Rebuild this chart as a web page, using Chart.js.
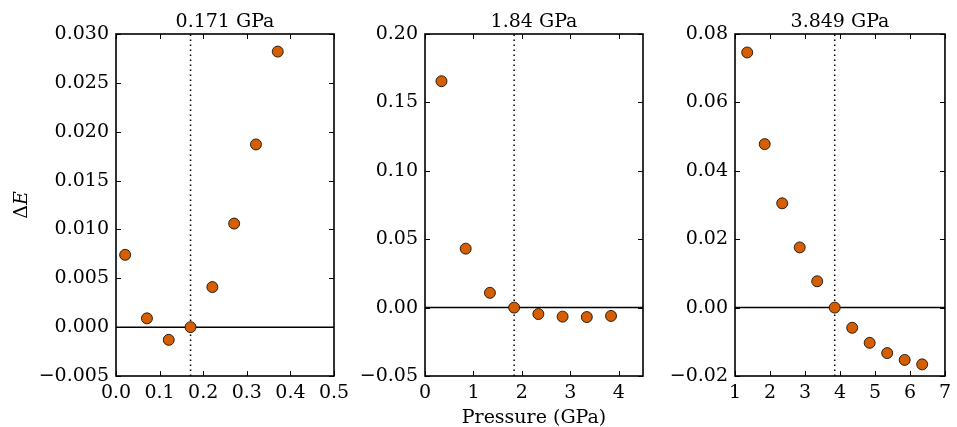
<!DOCTYPE html>
<html lang="en">
<head>
<meta charset="UTF-8">
<title>Delta E vs pressure</title>
<script src="https://cdn.jsdelivr.net/npm/chart.js"></script>
<style>
    body {
        margin: 0;
        background: #fff;
    }
    .wrap {
        position: relative;
        width: 957px;
        height: 427px;
    }
    .wrap canvas {
        position: absolute;
        left: 0;
        top: 0;
    }
</style>
</head>
<body>
<div class="wrap">
    <canvas id="p1" width="957" height="427"></canvas>
    <canvas id="p2" width="957" height="427"></canvas>
    <canvas id="p3" width="957" height="427"></canvas>
</div>
<script>
// panel 1 - transition at 0.171 GPa
const p1Pressure = [0.021, 0.071, 0.121, 0.171, 0.221, 0.271, 0.321, 0.371];
const p1DeltaE = [0.0074, 0.0009, -0.0013, 0.0, 0.0041, 0.0106, 0.0187, 0.0282];
const p1XTicks = [0, 0.1, 0.2, 0.3, 0.4, 0.5];
const p1YTicks = [-0.005, 0, 0.005, 0.010, 0.015, 0.020, 0.025, 0.030];

// panel 2 - transition at 1.84 GPa
const p2Pressure = [0.34, 0.84, 1.34, 1.84, 2.34, 2.84, 3.34, 3.84];
const p2DeltaE = [0.1655, 0.0431, 0.0108, 0.0, -0.0047, -0.0066, -0.0069, -0.0061];
const p2XTicks = [0, 1, 2, 3, 4];
const p2YTicks = [-0.05, 0, 0.05, 0.10, 0.15, 0.20];

// panel 3 - transition at 3.849 GPa
const p3Pressure = [1.349, 1.849, 2.349, 2.849, 3.349, 3.849, 4.349, 4.849, 5.349, 5.849, 6.349];
const p3DeltaE = [0.0746, 0.0478, 0.0305, 0.0176, 0.0077, 0.0, -0.0059, -0.0103, -0.0133, -0.0153, -0.0166];
const p3XTicks = [1, 2, 3, 4, 5, 6, 7];
const p3YTicks = [-0.02, 0, 0.02, 0.04, 0.06, 0.08];

const FONT = '"DejaVu Serif", serif';
const FSIZE = 19;

function fmt(v, d) {
    const s = Math.abs(v).toFixed(d);
    return (v < -1e-12 ? '\u2212' : '') + s;
}

// frame, inward ticks on all sides, panel title, y label
const framePlugin = {
    id: 'frame',
    afterDatasetsDraw(chart, args, opts) {
        const { ctx, chartArea: a, scales: { x, y } } = chart;
        const tl = 5;
        ctx.save();
        ctx.strokeStyle = '#000';
        ctx.lineWidth = 1;
        ctx.beginPath();
        x.ticks.forEach(t => {
            const px = Math.round(x.getPixelForValue(t.value)) + 0.5;
            ctx.moveTo(px, a.bottom); ctx.lineTo(px, a.bottom - tl);
            ctx.moveTo(px, a.top); ctx.lineTo(px, a.top + tl);
        });
        y.ticks.forEach(t => {
            const py = Math.round(y.getPixelForValue(t.value)) + 0.5;
            ctx.moveTo(a.left, py); ctx.lineTo(a.left + tl, py);
            ctx.moveTo(a.right, py); ctx.lineTo(a.right - tl, py);
        });
        ctx.stroke();
        ctx.lineWidth = 1.6;
        ctx.strokeRect(a.left, a.top, a.width, a.height);

        ctx.fillStyle = '#000';
        ctx.font = FSIZE + 'px ' + FONT;
        ctx.textAlign = 'center';
        ctx.textBaseline = 'alphabetic';
        ctx.fillText(opts.title, (a.left + a.right) / 2, 27);

        if (opts.ylabel) {
            ctx.translate(27, (a.top + a.bottom) / 2);
            ctx.rotate(-Math.PI / 2);
            const f1 = FSIZE + 'px ' + FONT;
            const f2 = 'italic ' + FSIZE + 'px ' + FONT;
            ctx.font = f1;
            const w1 = ctx.measureText('\u0394').width;
            ctx.font = f2;
            const w2 = ctx.measureText('E').width;
            ctx.textAlign = 'left';
            ctx.font = f1;
            ctx.fillText('\u0394', -(w1 + w2) / 2, 0);
            ctx.font = f2;
            ctx.fillText('E', -(w1 + w2) / 2 + w1, 0);
        }
        ctx.restore();
    }
};

function buildPanel(id, cfg) {
    const pts = cfg.px.map((p, i) => ({ x: p, y: cfg.py[i] }));
    const xMin = cfg.xt[0], xMax = cfg.xMax;
    const yMin = cfg.yt[0], yMax = cfg.yt[cfg.yt.length - 1];
    new Chart(document.getElementById(id), {
        type: 'scatter',
        data: {
            datasets: [
                {
                    data: pts,
                    backgroundColor: '#d55e00',
                    borderColor: '#000',
                    borderWidth: 0.8,
                    pointRadius: 5.5
                },
                {
                    data: [{ x: xMin, y: 0 }, { x: xMax, y: 0 }],
                    showLine: true,
                    borderColor: '#000',
                    borderWidth: 1.5,
                    pointRadius: 0
                },
                {
                    data: [{ x: cfg.trans, y: yMin }, { x: cfg.trans, y: yMax }],
                    showLine: true,
                    borderColor: '#000',
                    borderWidth: 1.5,
                    borderDash: [1.5, 3.5],
                    pointRadius: 0
                }
            ]
        },
        options: {
            responsive: false,
            animation: false,
            events: [],
            layout: {
                autoPadding: false,
                padding: { left: cfg.left - cfg.axisW, right: 957 - cfg.right, top: 34, bottom: 0 }
            },
            plugins: {
                legend: { display: false },
                tooltip: { enabled: false },
                frame: { title: cfg.title, ylabel: cfg.ylabel }
            },
            scales: {
                x: {
                    type: 'linear',
                    min: xMin,
                    max: xMax,
                    afterBuildTicks: s => { s.ticks = cfg.xt.map(v => ({ value: v })); },
                    afterFit: s => { s.height = 51; },
                    grid: { display: false, drawTicks: false },
                    border: { display: false },
                    title: {
                        display: !!cfg.xlabel,
                        text: cfg.xlabel || '',
                        color: '#000',
                        font: { family: FONT, size: FSIZE },
                        padding: { top: 0, bottom: -2 }
                    },
                    ticks: {
                        color: '#000',
                        padding: 6,
                        maxRotation: 0,
                        autoSkip: false,
                        font: { family: FONT, size: FSIZE },
                        callback: v => fmt(v, cfg.xd)
                    }
                },
                y: {
                    type: 'linear',
                    min: yMin,
                    max: yMax,
                    afterBuildTicks: s => { s.ticks = cfg.yt.map(v => ({ value: v })); },
                    afterFit: s => { s.width = cfg.axisW; },
                    grid: { display: false, drawTicks: false },
                    border: { display: false },
                    ticks: {
                        color: '#000',
                        padding: 7,
                        autoSkip: false,
                        font: { family: FONT, size: FSIZE },
                        callback: v => fmt(v, cfg.yd)
                    }
                }
            }
        },
        plugins: [framePlugin]
    });
}

buildPanel('p1', {
    px: p1Pressure, py: p1DeltaE, xt: p1XTicks, yt: p1YTicks, xMax: 0.5,
    xd: 1, yd: 3, trans: 0.171, title: '0.171 GPa', ylabel: true,
    left: 116, right: 334, axisW: 116
});
buildPanel('p2', {
    px: p2Pressure, py: p2DeltaE, xt: p2XTicks, yt: p2YTicks, xMax: 4.5,
    xd: 0, yd: 2, trans: 1.84, title: '1.84 GPa', xlabel: 'Pressure (GPa)',
    left: 425, right: 643, axisW: 90
});
buildPanel('p3', {
    px: p3Pressure, py: p3DeltaE, xt: p3XTicks, yt: p3YTicks, xMax: 7,
    xd: 0, yd: 2, trans: 3.849, title: '3.849 GPa',
    left: 735, right: 952, axisW: 90
});
</script>
</body>
</html>
